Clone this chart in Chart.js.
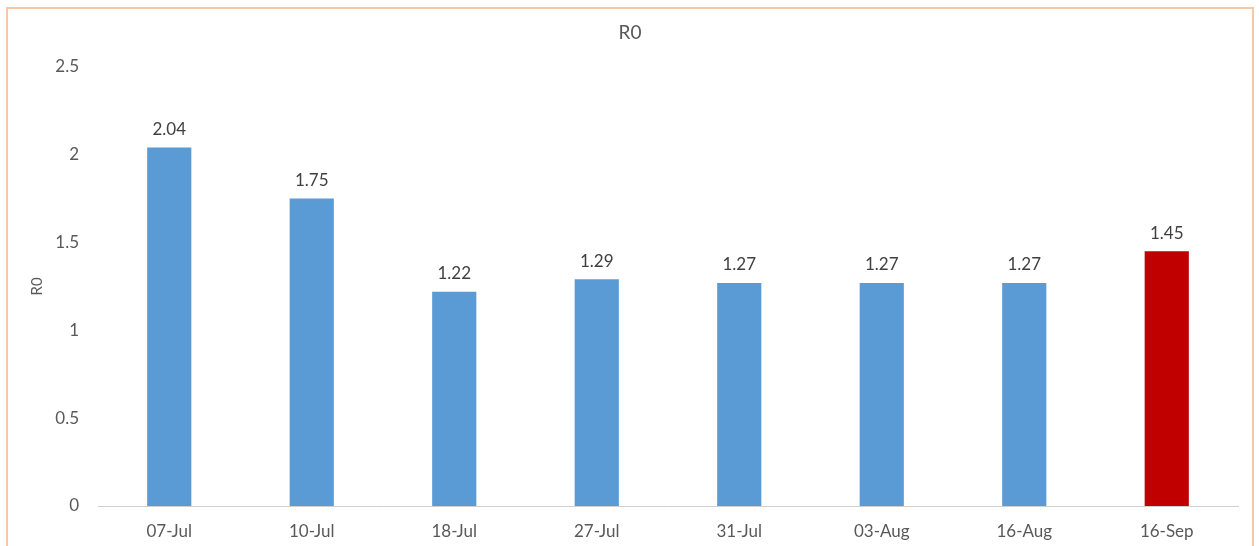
<!DOCTYPE html>
<html>
<head>
<meta charset="utf-8">
<script src="https://cdn.jsdelivr.net/npm/chart.js@4/dist/chart.umd.min.js"></script>
<style>
    html, body { margin: 0; padding: 0; background: #fff; overflow: hidden; }
    #wrap { position: relative; width: 1259px; height: 546px; }
</style>
</head>
<body>
<div id="wrap"><canvas id="r0Chart" width="1259" height="546"></canvas></div>
<script>
// Dates of each estimate
const dates = ['07-Jul', '10-Jul', '18-Jul', '27-Jul', '31-Jul', '03-Aug', '16-Aug', '16-Sep'];
// R0 value for each date
const r0Values = [2.04, 1.75, 1.22, 1.29, 1.27, 1.27, 1.27, 1.45];
// Y axis ticks
const yTicks = [0, 0.5, 1, 1.5, 2, 2.5];

const blue = '#5B9BD5';
const red = '#C00000';
const textColor = '#595959';
const fontFamily = 'Lato, "Open Sans", sans-serif';

// last bar (latest estimate) is highlighted
const barColors = r0Values.map((_, i) => i === r0Values.length - 1 ? red : blue);

// Frame around the whole chart
const framePlugin = {
    id: 'frame',
    beforeDraw(chart) {
        const ctx = chart.ctx;
        ctx.save();
        ctx.fillStyle = '#fff';
        ctx.fillRect(0, 0, chart.width, chart.height);
        ctx.strokeStyle = '#F8C8A6';
        ctx.lineWidth = 2;
        ctx.strokeRect(7, 8, 1246, 600);
        ctx.restore();
    }
};

// Value written above each bar
const valueLabels = {
    id: 'valueLabels',
    afterDatasetsDraw(chart) {
        const ctx = chart.ctx;
        const meta = chart.getDatasetMeta(0);
        ctx.save();
        ctx.font = '17px ' + fontFamily;
        ctx.fillStyle = '#404040';
        ctx.textAlign = 'center';
        ctx.textBaseline = 'middle';
        meta.data.forEach((bar, i) => {
            ctx.fillText(r0Values[i].toFixed(2), bar.x, bar.y - 18);
        });
        ctx.restore();
    }
};

const ctx = document.getElementById('r0Chart').getContext('2d');
new Chart(ctx, {
    type: 'bar',
    data: {
        labels: dates,
        datasets: [{
            label: 'R0',
            data: r0Values,
            backgroundColor: barColors,
            borderWidth: 0,
            barPercentage: 0.31,
            categoryPercentage: 1
        }]
    },
    options: {
        responsive: false,
        animation: false,
        layout: { padding: { left: 22, right: 21, top: 0, bottom: 0 } },
        plugins: {
            legend: { display: false },
            tooltip: { enabled: false },
            title: {
                display: true,
                text: 'R0',
                color: textColor,
                font: { family: fontFamily, size: 19, weight: 'normal' },
                padding: { top: 21, bottom: 23 }
            }
        },
        scales: {
            x: {
                grid: { display: false, drawTicks: false },
                border: { display: true, color: '#D0D0D0', dash: [3, 2], width: 1 },
                ticks: {
                    color: textColor,
                    font: { family: fontFamily, size: 17 },
                    padding: 15,
                    maxRotation: 0
                },
                afterFit(scale) { scale.height = 40; }
            },
            y: {
                min: 0,
                max: 2.5,
                afterBuildTicks(scale) {
                    scale.ticks = yTicks.map(v => ({ value: v }));
                },
                grid: { display: false, drawTicks: false },
                border: { display: false },
                ticks: {
                    color: textColor,
                    font: { family: fontFamily, size: 17 },
                    padding: 19,
                    callback: v => String(v)
                },
                title: {
                    display: true,
                    text: 'R0',
                    color: textColor,
                    font: { family: fontFamily, size: 15 },
                    padding: { top: 6, bottom: 0 }
                },
                afterFit(scale) { scale.width = 76; }
            }
        }
    },
    plugins: [framePlugin, valueLabels]
});
</script>
</body>
</html>
